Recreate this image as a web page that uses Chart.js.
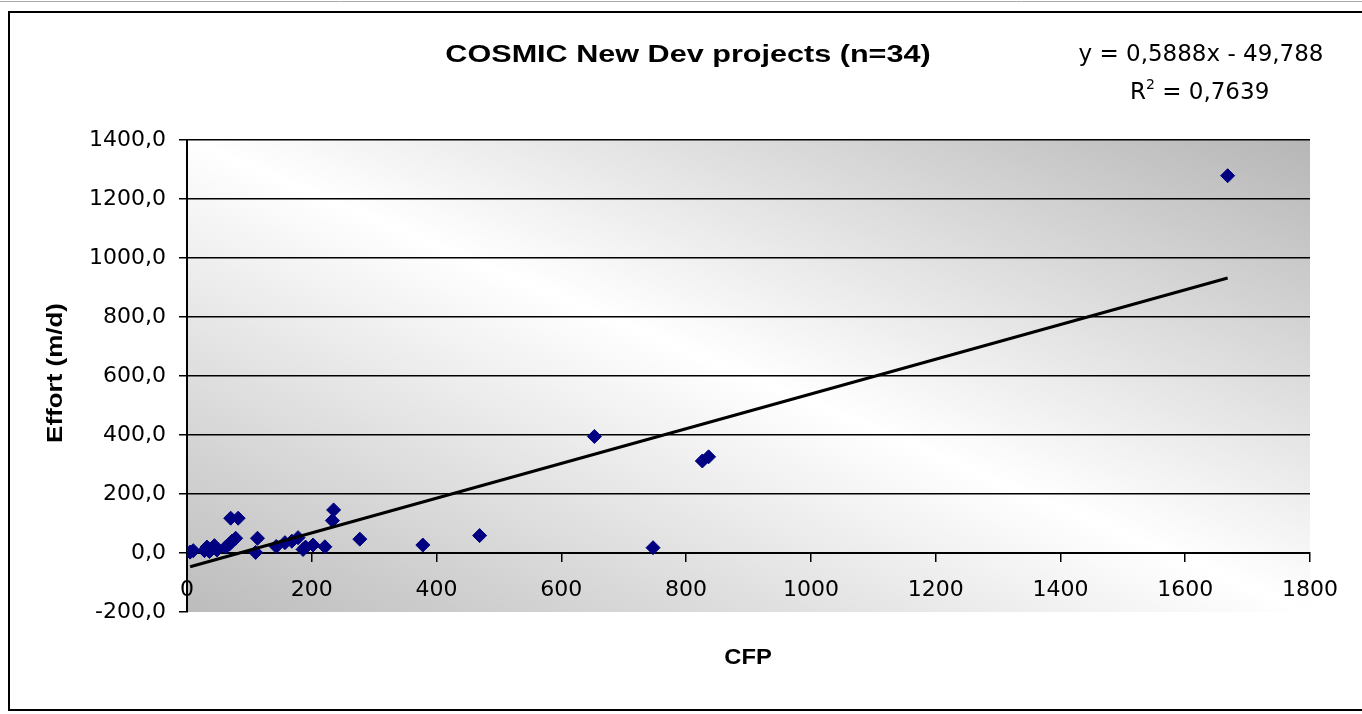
<!DOCTYPE html>
<html><head><meta charset="utf-8">
<script src="https://cdn.jsdelivr.net/npm/chart.js@4/dist/chart.umd.min.js"></script>
<style>html,body{margin:0;padding:0;background:#fff;overflow:hidden}</style>
</head><body>
<canvas id="c" width="1362" height="714"></canvas>
<script>
// ---- data ----
const cfpValues    = [5, 10, 28, 32, 36, 40, 44, 48, 62, 68, 72, 78, 70, 82, 110, 113, 143, 157, 168, 178, 186, 190, 202, 221, 233, 235, 277, 378, 469, 653, 747, 826, 836, 1668];
const effortValues = [3, 8, 8, 20, 5, 15, 25, 10, 20, 30, 40, 50, 118, 118, 2, 50, 22, 35, 40, 52, 12, 20, 27, 21, 110, 146, 47, 27, 59, 395, 18, 312, 326, 1279];
const trendX = [5, 1668];
const trendY = [-46.8, 932.3];
const xTickValues = [0, 200, 400, 600, 800, 1000, 1200, 1400, 1600, 1800];
const yTickValues = [-200, 0, 200, 400, 600, 800, 1000, 1200, 1400];
const titleText = 'COSMIC New Dev projects (n=34)';
const equationText = 'y = 0,5888x - 49,788';
const r2Label = 'R';
const r2Sup = '2';
const r2Value = ' = 0,7639';
const xTitle = 'CFP';
const yTitle = 'Effort (m/d)';

const FONT = '"Liberation Sans", Arial, sans-serif';
const TICKFONT = '"DejaVu Sans", sans-serif';

const points = cfpValues.map((x, i) => ({x, y: effortValues[i]}));
const trend = trendX.map((x, i) => ({x, y: trendY[i]}));

const bgPlugin = {
  id: 'bg',
  beforeDraw(chart) {
    const ctx = chart.ctx, a = chart.chartArea;
    ctx.save();
    ctx.fillStyle = '#fff';
    ctx.fillRect(0, 0, chart.width, chart.height);
    ctx.save();
    ctx.translate(a.left, a.top);
    ctx.scale(a.right - a.left, a.bottom - a.top);
    const g = ctx.createLinearGradient(0, 1, 1, 0);
    g.addColorStop(0, '#bcbcbc');
    g.addColorStop(0.5, '#ffffff');
    g.addColorStop(1, '#b6b6b6');
    ctx.fillStyle = g;
    ctx.fillRect(0, 0, 1, 1);
    ctx.restore();
    ctx.strokeStyle = '#aaa';
    ctx.lineWidth = 1;
    ctx.beginPath(); ctx.moveTo(0, 1.5); ctx.lineTo(chart.width, 1.5); ctx.stroke();
    ctx.strokeStyle = '#000';
    ctx.lineWidth = 2;
    ctx.strokeRect(9, 12, chart.width + 20, 698);
    ctx.restore();
  }
};

function scaledText(ctx, text, cx, cy, font, sx) {
  ctx.save();
  ctx.font = font;
  ctx.translate(cx, cy);
  ctx.scale(sx, 1);
  ctx.fillText(text, 0, 0);
  ctx.restore();
}

const textPlugin = {
  id: 'texts',
  afterDraw(chart) {
    const ctx = chart.ctx;
    ctx.save();
    ctx.fillStyle = '#000';
    ctx.textBaseline = 'middle';
    ctx.textAlign = 'center';
    scaledText(ctx, titleText, 688, 56, 'bold 23px ' + FONT, 1.33);
    ctx.font = '23px ' + TICKFONT;
    ctx.fillText(equationText, 1201, 55);
    // R^2 line
    ctx.textAlign = 'left';
    const x0 = 1130;
    ctx.font = '23px ' + TICKFONT;
    ctx.fillText(r2Label, x0, 93);
    const wR = ctx.measureText(r2Label).width;
    ctx.font = '14px ' + TICKFONT;
    ctx.fillText(r2Sup, x0 + wR, 85);
    const wS = ctx.measureText(r2Sup).width;
    ctx.font = '23px ' + TICKFONT;
    ctx.fillText(r2Value, x0 + wR + wS, 93);
    // axis titles
    ctx.textAlign = 'center';
    scaledText(ctx, xTitle, 748, 658, 'bold 22px ' + FONT, 1.08);
    ctx.translate(56, 373);
    ctx.rotate(-Math.PI / 2);
    ctx.scale(1.18, 1);
    ctx.font = 'bold 22px ' + FONT;
    ctx.fillText(yTitle, 0, 0);
    ctx.restore();
  }
};

new Chart(document.getElementById('c'), {
  type: 'scatter',
  data: {
    datasets: [
      {
        label: 'trend',
        data: trend,
        showLine: true,
        borderColor: '#000',
        borderWidth: 3,
        pointRadius: 0,
        fill: false,
        order: 0
      },
      {
        label: 'projects',
        data: points,
        pointStyle: 'rectRot',
        pointRadius: 7,
        backgroundColor: '#000080',
        borderColor: '#000080',
        borderWidth: 1,
        order: 1
      }
    ]
  },
  options: {
    responsive: false,
    animation: false,
    layout: { padding: { left: 0, right: 52, top: 140, bottom: 102 } },
    plugins: { legend: { display: false }, tooltip: { enabled: false }, title: { display: false } },
    scales: {
      x: {
        type: 'linear',
        min: 0, max: 1800,
        position: { y: 0 },
        afterBuildTicks(scale) { scale.ticks = xTickValues.map(v => ({value: v})); },
        ticks: { color: '#000', font: { family: TICKFONT, size: 22 }, padding: 16, maxRotation: 0, autoSkip: false,
                 callback: v => String(v) },
        grid: { drawOnChartArea: false, drawTicks: true, tickLength: 8, color: '#000', lineWidth: 1.5 },
        border: { color: '#000', width: 2 }
      },
      y: {
        type: 'linear',
        min: -200, max: 1400,
        afterBuildTicks(scale) { scale.ticks = yTickValues.map(v => ({value: v})); },
        afterFit(scale) { scale.width = 187; },
        ticks: {
          color: '#000', font: { family: TICKFONT, size: 22 }, padding: 13,
          callback: v => v.toFixed(1).replace('.', ',')
        },
        grid: {
          drawTicks: true, tickLength: 8,
          color: c => (c.tick && c.tick.value === -200) ? 'rgba(0,0,0,0)' : '#000',
          tickColor: '#000',
          lineWidth: 1.5
        },
        border: { color: '#000', width: 2 }
      }
    }
  },
  plugins: [bgPlugin, textPlugin]
});
</script>
</body></html>
